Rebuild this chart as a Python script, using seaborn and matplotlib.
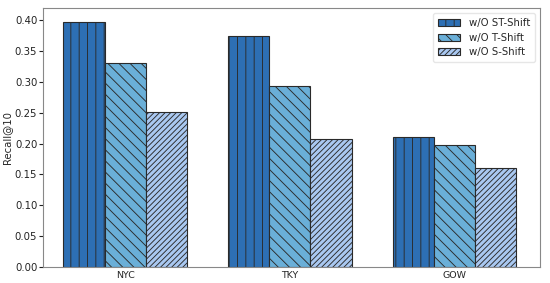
import matplotlib
matplotlib.use("Agg")
import matplotlib.pyplot as plt
import seaborn as sns
import pandas as pd

datasets = ["NYC", "TKY", "GOW"]
variants = ["w/O ST-Shift", "w/O T-Shift", "w/O S-Shift"]
st_shift = [0.397, 0.375, 0.211]
t_shift = [0.331, 0.294, 0.198]
s_shift = [0.251, 0.208, 0.160]

colors = ["#2d6fb4", "#6aafd8", "#a9c8f1"]
hatches = ["||", "\\\\\\", "//////"]

rows = []
for vname, vals in zip(variants, [st_shift, t_shift, s_shift]):
    for d, v in zip(datasets, vals):
        rows.append({"dataset": d, "variant": vname, "recall": v})
df = pd.DataFrame(rows)

sns.set_style("white")
plt.rcParams["hatch.linewidth"] = 0.65
plt.rcParams["hatch.color"] = "#243344"
fig, ax = plt.subplots(figsize=(5.5, 2.83), dpi=100)
sns.barplot(data=df, x="dataset", y="recall", hue="variant", order=datasets,
            hue_order=variants, palette=colors, width=0.75, ax=ax,
            edgecolor="#2a2a2a", linewidth=0.8, saturation=1)

for i, cont in enumerate(ax.containers):
    for p in cont:
        p.set_hatch(hatches[i])

ax.set_ylim(0, 0.42)
ax.set_xlim(-0.5, 2.52)
ax.set_yticks([0.0, 0.05, 0.10, 0.15, 0.20, 0.25, 0.30, 0.35, 0.40])
ax.set_yticklabels([f"{t:.2f}" for t in ax.get_yticks()], fontsize=7.3)
ax.tick_params(axis="x", labelsize=6.8, length=0, pad=3)
ax.tick_params(axis="y", left=True, length=3, width=0.8, pad=1, colors="#222222")
ax.set_xlabel("")
ax.set_ylabel("Recall@10", fontsize=7.3, labelpad=2)
for s in ax.spines.values():
    s.set_color("#888888")
    s.set_linewidth(0.8)

leg = ax.legend(loc="upper right", fontsize=7.3, frameon=True, handlelength=2.2,
                handleheight=0.7, borderpad=0.5, labelspacing=0.45)
leg.get_frame().set_edgecolor("#e0e0e0")
for i, h in enumerate(leg.legend_handles):
    h.set_hatch(hatches[i])

fig.subplots_adjust(left=0.078, right=0.982, top=0.972, bottom=0.057)
fig.savefig("out.png", dpi=100)
